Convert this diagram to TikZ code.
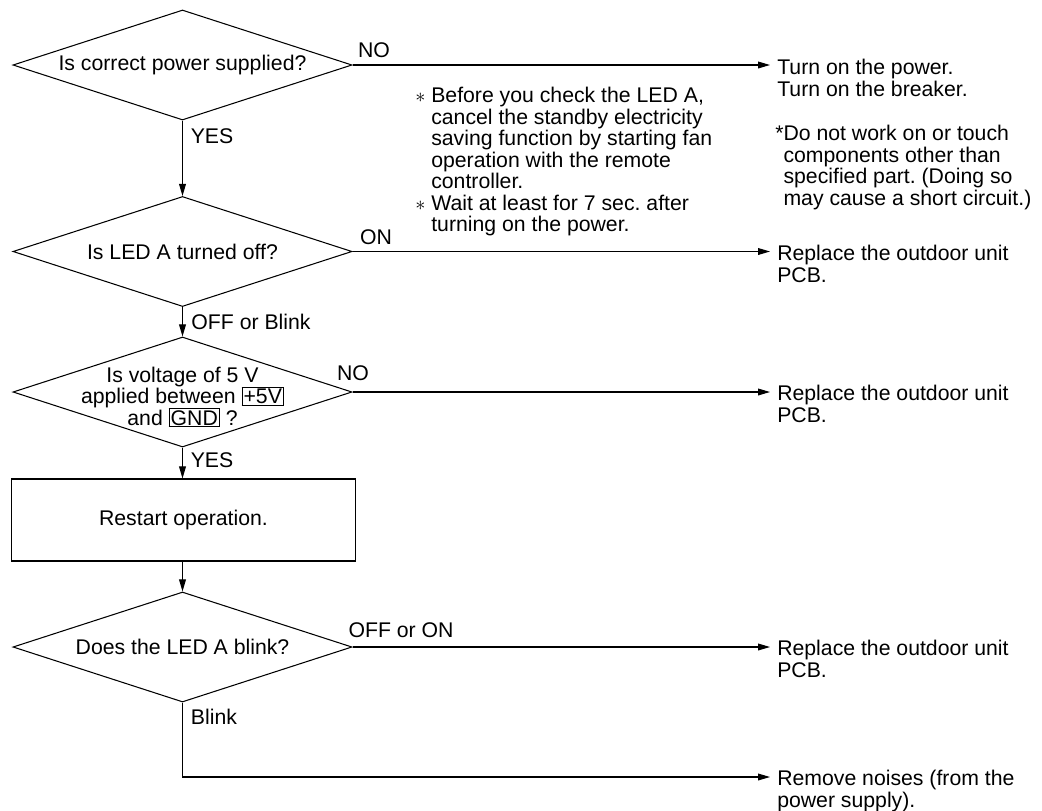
\documentclass[tikz,border=0pt]{standalone}
\usepackage{fontspec}
\setmainfont{Liberation Sans}
\usetikzlibrary{shapes.geometric, arrows.meta}
\setlength{\fboxsep}{0.8pt}
\setlength{\fboxrule}{0.6pt}
\frenchspacing

\begin{document}
\begin{tikzpicture}[x=0.025cm, y=-0.025cm,
    font=\fontsize{15.1}{15.3}\selectfont,
    decision/.style={diamond, draw, line width=0.75pt, inner sep=0pt,
        minimum width=8.475cm, minimum height=2.75cm},
    process/.style={rectangle, draw, line width=0.75pt,
        minimum width=8.575cm, minimum height=2.05cm},
    result/.style={anchor=north west, inner xsep=0.175cm, inner ysep=0pt, align=left},
    note/.style={anchor=north west, inner sep=0pt, align=left},
    lbl/.style={inner sep=0pt},
    arr/.style={-{Triangle[length=0.3cm, width=0.17cm]}, line width=0.75pt}
]
\useasboundingbox (0,0) rectangle (1042,811);

% --- Decisions and process ---
\node[decision] (d1) at (182.5,65) {};
\node (q1) at (d1) {Is correct power supplied?};
\node[decision] (d2) at (182.5,251.5) {};
\node (q2) at (d2) {Is LED A turned off?};
\node[decision] (d3) at (182.5,392) {};
\node[align=center] (q3) at (182.5,397) {Is voltage of 5 V\\applied between \fbox{+5V}\\and \fbox{GND} ?};
\node[process] (p1) at (183.5,520) {Restart operation.};
\node[decision] (d4) at (182.5,647) {};
\node (q4) at (d4) {Does the LED A blink?};

% --- Results ---
\node[result] (r1) at (770,59) {Turn on the power.\\Turn on the breaker.};
\node[result] (r2) at (770,245) {Replace the outdoor unit\\PCB.};
\node[result] (r3) at (770,385) {Replace the outdoor unit\\PCB.};
\node[result] (r4) at (770,640) {Replace the outdoor unit\\PCB.};
\node[result] (r5) at (770,770) {Remove noises (from the\\power supply).};

% --- Notes ---
\node[note] (n1) at (415,87) {$\ast$ Before you check the LED A,\\
    \hphantom{$\ast$ }cancel the standby electricity\\
    \hphantom{$\ast$ }saving function by starting fan\\
    \hphantom{$\ast$ }operation with the remote\\
    \hphantom{$\ast$ }controller.\\
    $\ast$ Wait at least for 7 sec. after\\
    \hphantom{$\ast$ }turning on the power.};
\node[note] (n2) at (775,125) {*Do not work on or touch\\
    \hphantom{*}components other than\\
    \hphantom{*}specified part. (Doing so\\
    \hphantom{*}may cause a short circuit.)};

% --- Branch labels ---
\node[lbl] (l1) at (374,50) {NO};
\node[lbl] (l2) at (212,136) {YES};
\node[lbl] (l3) at (376,237) {ON};
\node[lbl] (l4) at (251,322) {OFF or Blink};
\node[lbl] (l5) at (353,373) {NO};
\node[lbl] (l6) at (212,460) {YES};
\node[lbl] (l7) at (401,630) {OFF or ON};
\node[lbl] (l8) at (214,717) {Blink};

% --- Connectors ---
\draw[arr] (d1.south) -- (d2.north);
\draw[arr] (d2.south) -- (d3.north);
\draw[arr] (d3.south) -- (p1.north -| d3.south);
\draw[arr] (p1.south -| d4.north) -- (d4.north);

\draw[arr] (d1.east) -- (d1.east -| r1.west);
\draw[arr] (d2.east) -- (d2.east -| r2.west);
\draw[arr] (d3.east) -- (d3.east -| r3.west);
\draw[arr] (d4.east) -- (d4.east -| r4.west);

\coordinate (c5) at (182.5,777);
\draw[arr] (d4.south) -- (c5) -- (c5 -| r5.west);

\end{tikzpicture}
\end{document}
